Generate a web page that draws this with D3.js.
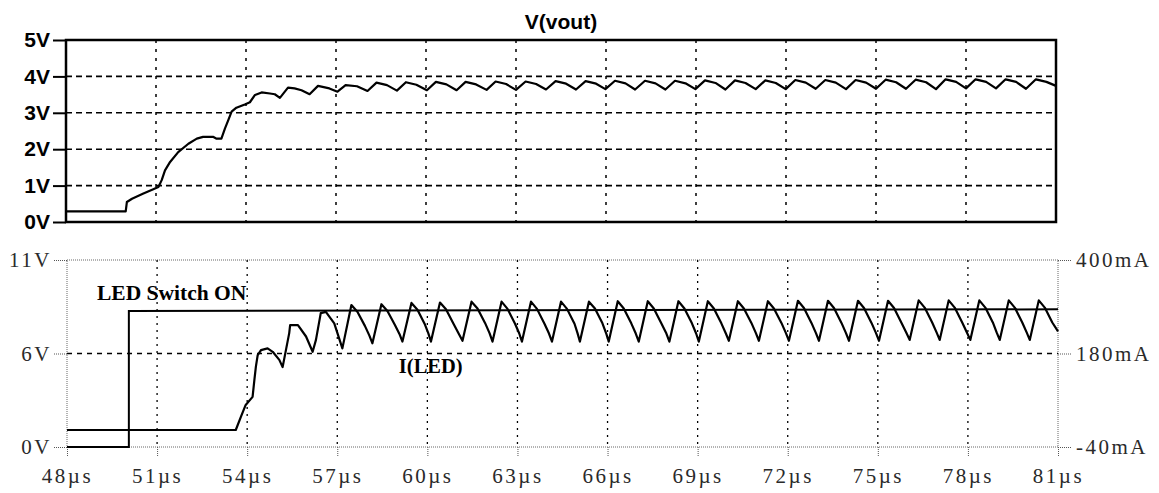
<!DOCTYPE html>
<html>
<head>
<meta charset="utf-8">
<script src="https://cdn.jsdelivr.net/npm/d3@7"></script>
<style>
    body { margin: 0; background: #fff; }
    #scope { width: 1159px; height: 493px; }
    .top-axis text { font: bold 21px "Liberation Sans", Arial, sans-serif; fill: #000; }
    .bot-axis text { font: 21px "Liberation Serif", "Times New Roman", serif; fill: #2a2a2a; letter-spacing: 2.5px; }
</style>
</head>
<body>
<div id="scope"></div>
<script>

// time axis (µs)
const timeTicks = [48, 51, 54, 57, 60, 63, 66, 69, 72, 75, 78, 81];

// top pane: V(vout)
const voutTicks = [0, 1, 2, 3, 4, 5];
const voutData = [
    [48.00, 0.29], [49.99, 0.29], [50.03, 0.55], [50.20, 0.64], [50.58, 0.78], [50.91, 0.90],
    [51.08, 0.96], [51.19, 1.15], [51.30, 1.42], [51.47, 1.65], [51.74, 1.92], [52.08, 2.15],
    [52.36, 2.29], [52.57, 2.34], [52.90, 2.34], [53.02, 2.29], [53.18, 2.29], [53.30, 2.57],
    [53.41, 2.80], [53.52, 3.03], [53.68, 3.14], [53.96, 3.23], [54.13, 3.29], [54.30, 3.49],
    [54.52, 3.56], [54.80, 3.53], [54.96, 3.51], [55.13, 3.41], [55.40, 3.69], [55.62, 3.67],
    [55.85, 3.62], [56.12, 3.51], [56.40, 3.74], [56.78, 3.67], [57.05, 3.58], [57.32, 3.76],
    [57.70, 3.73], [58.05, 3.60], [58.35, 3.83], [58.70, 3.76], [59.03, 3.61], [59.33, 3.84],
    [59.68, 3.77], [60.03, 3.62], [60.33, 3.85], [60.68, 3.78], [61.02, 3.62], [61.32, 3.85],
    [61.67, 3.78], [62.02, 3.63], [62.32, 3.86], [62.67, 3.79], [63.00, 3.63], [63.32, 3.86],
    [63.67, 3.79], [64.00, 3.64], [64.32, 3.87], [64.67, 3.80], [65.00, 3.64], [65.32, 3.87],
    [65.67, 3.80], [65.98, 3.65], [66.30, 3.88], [66.65, 3.81], [66.97, 3.64], [67.30, 3.88],
    [67.65, 3.81], [67.98, 3.64], [68.30, 3.88], [68.65, 3.81], [68.98, 3.65], [69.30, 3.89],
    [69.65, 3.82], [69.98, 3.64], [70.30, 3.89], [70.65, 3.82], [70.99, 3.65], [71.31, 3.89],
    [71.66, 3.82], [71.99, 3.65], [72.31, 3.90], [72.66, 3.83], [72.99, 3.66], [73.31, 3.90],
    [73.66, 3.83], [74.00, 3.65], [74.32, 3.90], [74.67, 3.83], [75.00, 3.66], [75.32, 3.91],
    [75.67, 3.84], [76.00, 3.66], [76.32, 3.91], [76.67, 3.84], [77.00, 3.65], [77.32, 3.92],
    [77.67, 3.85], [78.00, 3.67], [78.32, 3.92], [78.67, 3.85], [79.00, 3.67], [79.32, 3.92],
    [79.67, 3.85], [80.00, 3.66], [80.33, 3.92], [80.68, 3.85], [81.00, 3.74]
];

// bottom pane: LED switch voltage (left axis) and I(LED) (right axis)
const switchTicks = [0, 5.5, 11];
const switchTickLabels = ["0V", "6V", "11V"];
const currentTicks = [-40, 180, 400];
const switchData = [[48.00, 0], [50.06, 0], [50.06, 8.0], [81.00, 8.1]];
const ledData = [
    [48.00, 0], [53.62, 0], [53.79, 31], [53.95, 59], [54.18, 78], [54.24, 118], [54.29, 149],
    [54.35, 176], [54.46, 188], [54.68, 192], [54.85, 184], [55.07, 165], [55.18, 148], [55.29, 188],
    [55.40, 228], [55.43, 247], [55.69, 247], [55.96, 220], [56.18, 184], [56.29, 212], [56.45, 275],
    [56.62, 278], [56.90, 251], [57.17, 192],
    [57.47, 294], [57.67, 278], [57.92, 245], [58.07, 222], [58.17, 204],
    [58.47, 296], [58.67, 280], [58.92, 247], [59.07, 226], [59.17, 208],
    [59.47, 299], [59.67, 283], [59.92, 248], [60.03, 228], [60.12, 208],
    [60.42, 300], [60.62, 284], [60.87, 250], [61.05, 226], [61.17, 210],
    [61.47, 302], [61.67, 286], [61.92, 252], [62.07, 228], [62.17, 208],
    [62.47, 302], [62.67, 285], [62.92, 250], [63.06, 227], [63.15, 208],
    [63.45, 302], [63.65, 285], [63.90, 250], [64.05, 227], [64.15, 208],
    [64.45, 302], [64.65, 285], [64.90, 250], [65.00, 228], [65.08, 208],
    [65.38, 302], [65.58, 286], [65.83, 251], [65.96, 226], [66.04, 208],
    [66.34, 303], [66.54, 286], [66.79, 251], [66.94, 227], [67.04, 208],
    [67.34, 303], [67.54, 286], [67.79, 251], [67.96, 227], [68.06, 208],
    [68.36, 303], [68.56, 286], [68.81, 251], [68.95, 227], [69.04, 208],
    [69.34, 303], [69.54, 286], [69.79, 251], [69.94, 227], [70.04, 210],
    [70.34, 303], [70.54, 286], [70.79, 252], [70.94, 228], [71.04, 210],
    [71.34, 303], [71.54, 286], [71.79, 252], [71.94, 228], [72.04, 210],
    [72.34, 304], [72.54, 287], [72.79, 252], [72.94, 228], [73.04, 210],
    [73.34, 304], [73.54, 287], [73.79, 252], [73.94, 228], [74.04, 210],
    [74.34, 304], [74.54, 287], [74.79, 252], [74.94, 228], [75.04, 210],
    [75.34, 304], [75.54, 287], [75.79, 252], [75.95, 229], [76.06, 212],
    [76.36, 305], [76.56, 288], [76.81, 253], [76.96, 229], [77.06, 212],
    [77.36, 305], [77.56, 288], [77.81, 253], [77.97, 229], [78.08, 212],
    [78.38, 305], [78.58, 288], [78.83, 253], [78.96, 229], [79.06, 212],
    [79.36, 305], [79.56, 288], [79.81, 253], [79.96, 229], [80.06, 212],
    [80.36, 305], [80.56, 288], [80.81, 253], [81.00, 232]
];


class ScopeVis {

    constructor(parentElement) {
        this.parentElement = parentElement;
        this.initVis();
    }

    initVis() {
        let vis = this;

        vis.svg = d3.select("#" + vis.parentElement).append("svg")
            .attr("width", 1159)
            .attr("height", 493);

        // pane geometry
        vis.top = {left: 66, top: 40, width: 990, height: 182};
        vis.bot = {left: 67, top: 260, width: 991, height: 187};

        vis.gTop = vis.svg.append("g")
            .attr("transform", `translate(${vis.top.left}, ${vis.top.top})`);
        vis.gBot = vis.svg.append("g")
            .attr("transform", `translate(${vis.bot.left}, ${vis.bot.top})`);

        // scales
        vis.xTop = d3.scaleLinear().domain([48, 81]).range([0, vis.top.width]);
        vis.yTop = d3.scaleLinear().domain([0, 5]).range([vis.top.height, 0]);

        vis.xBot = d3.scaleLinear().domain([48, 81]).range([0, vis.bot.width]);
        vis.yLeft = d3.scaleLinear().domain([0, 11]).range([vis.bot.height, 0]);
        vis.yRight = d3.scaleLinear().domain([-40, 400]).range([vis.bot.height, 0]);

        vis.updateVis();
    }

    updateVis() {
        let vis = this;

        /* ---------- top pane ---------- */

        // grid
        vis.gTop.selectAll(".hgrid")
            .data(voutTicks.slice(1, -1))
            .enter().append("line")
            .attr("x1", 0).attr("x2", vis.top.width)
            .attr("y1", d => vis.yTop(d)).attr("y2", d => vis.yTop(d))
            .attr("stroke", "#000").attr("stroke-width", 1.6)
            .attr("stroke-dasharray", "6,4");

        vis.gTop.selectAll(".vgrid")
            .data(timeTicks.slice(1, -1))
            .enter().append("line")
            .attr("x1", d => vis.xTop(d)).attr("x2", d => vis.xTop(d))
            .attr("y1", 0).attr("y2", vis.top.height)
            .attr("stroke", "#000").attr("stroke-width", 1.5)
            .attr("stroke-dasharray", "3,6");

        let yAxisTop = d3.axisLeft(vis.yTop)
            .tickValues(voutTicks)
            .tickSize(13)
            .tickPadding(3)
            .tickFormat(d => d + "V");

        vis.gTop.append("g")
            .attr("class", "top-axis")
            .call(yAxisTop)
            .call(g => g.select(".domain").remove())
            .call(g => g.selectAll(".tick line").attr("stroke", "#000").attr("stroke-width", 2));

        let lineTop = d3.line()
            .x(d => vis.xTop(d[0]))
            .y(d => vis.yTop(d[1]));

        vis.gTop.append("path")
            .datum(voutData)
            .attr("d", lineTop)
            .attr("fill", "none")
            .attr("stroke", "#000")
            .attr("stroke-width", 2.2)
            .attr("stroke-linejoin", "round");

        vis.gTop.append("rect")
            .attr("width", vis.top.width)
            .attr("height", vis.top.height)
            .attr("fill", "none")
            .attr("stroke", "#000")
            .attr("stroke-width", 2.5);

        vis.svg.append("text")
            .attr("x", vis.top.left + vis.top.width / 2)
            .attr("y", 29)
            .attr("text-anchor", "middle")
            .style("font", "bold 21px 'Liberation Sans', Arial, sans-serif")
            .text("V(vout)");

        /* ---------- bottom pane ---------- */

        // frame (dotted, light)
        vis.gBot.append("rect")
            .attr("width", vis.bot.width)
            .attr("height", vis.bot.height)
            .attr("fill", "none")
            .attr("stroke", "#666")
            .attr("stroke-width", 1)
            .attr("stroke-dasharray", "1,1");

        vis.gBot.selectAll(".vgrid")
            .data(timeTicks.slice(1, -1))
            .enter().append("line")
            .attr("x1", d => vis.xBot(d)).attr("x2", d => vis.xBot(d))
            .attr("y1", 0).attr("y2", vis.bot.height)
            .attr("stroke", "#000").attr("stroke-width", 1.3)
            .attr("stroke-dasharray", "2,5");

        vis.gBot.append("line")
            .attr("x1", 0).attr("x2", vis.bot.width)
            .attr("y1", vis.yLeft(switchTicks[1])).attr("y2", vis.yLeft(switchTicks[1]))
            .attr("stroke", "#000").attr("stroke-width", 1.5)
            .attr("stroke-dasharray", "5,5");

        let xAxis = d3.axisBottom(vis.xBot)
            .tickValues(timeTicks)
            .tickSize(10)
            .tickPadding(11)
            .tickFormat(d => d + "µs");

        let yAxisLeft = d3.axisLeft(vis.yLeft)
            .tickValues(switchTicks)
            .tickSize(14)
            .tickPadding(1)
            .tickFormat((d, i) => switchTickLabels[i]);

        let yAxisRight = d3.axisRight(vis.yRight)
            .tickValues(currentTicks)
            .tickSize(14)
            .tickPadding(4)
            .tickFormat(d => d + "mA");

        vis.gBot.append("g")
            .attr("class", "bot-axis")
            .attr("transform", `translate(0, ${vis.bot.height})`)
            .call(xAxis);

        vis.gBot.append("g")
            .attr("class", "bot-axis")
            .call(yAxisLeft);

        vis.gBot.append("g")
            .attr("class", "bot-axis")
            .attr("transform", `translate(${vis.bot.width}, 0)`)
            .call(yAxisRight);

        vis.gBot.selectAll(".bot-axis .domain").remove();
        vis.gBot.selectAll(".bot-axis .tick line")
            .attr("stroke", "#555")
            .attr("stroke-width", 1)
            .attr("stroke-dasharray", "1,1");

        let lineSwitch = d3.line()
            .x(d => vis.xBot(d[0]))
            .y(d => vis.yLeft(d[1]));

        let lineLed = d3.line()
            .x(d => vis.xBot(d[0]))
            .y(d => vis.yRight(d[1]));

        vis.gBot.append("path")
            .datum(switchData)
            .attr("d", lineSwitch)
            .attr("fill", "none")
            .attr("stroke", "#000")
            .attr("stroke-width", 2);

        vis.gBot.append("path")
            .datum(ledData)
            .attr("d", lineLed)
            .attr("fill", "none")
            .attr("stroke", "#000")
            .attr("stroke-width", 2.2)
            .attr("stroke-linejoin", "round");

        // trace labels
        vis.gBot.append("text")
            .attr("x", vis.xBot(49.0))
            .attr("y", vis.yLeft(8.65))
            .style("font", "bold 21.5px 'Liberation Serif', 'Times New Roman', serif")
            .text("LED Switch ON");

        vis.gBot.append("text")
            .attr("x", vis.xBot(59.05))
            .attr("y", vis.yRight(134))
            .style("font", "bold 20.5px 'Liberation Serif', 'Times New Roman', serif")
            .text("I(LED)");
    }
}

new ScopeVis("scope");

</script>
</body>
</html>
